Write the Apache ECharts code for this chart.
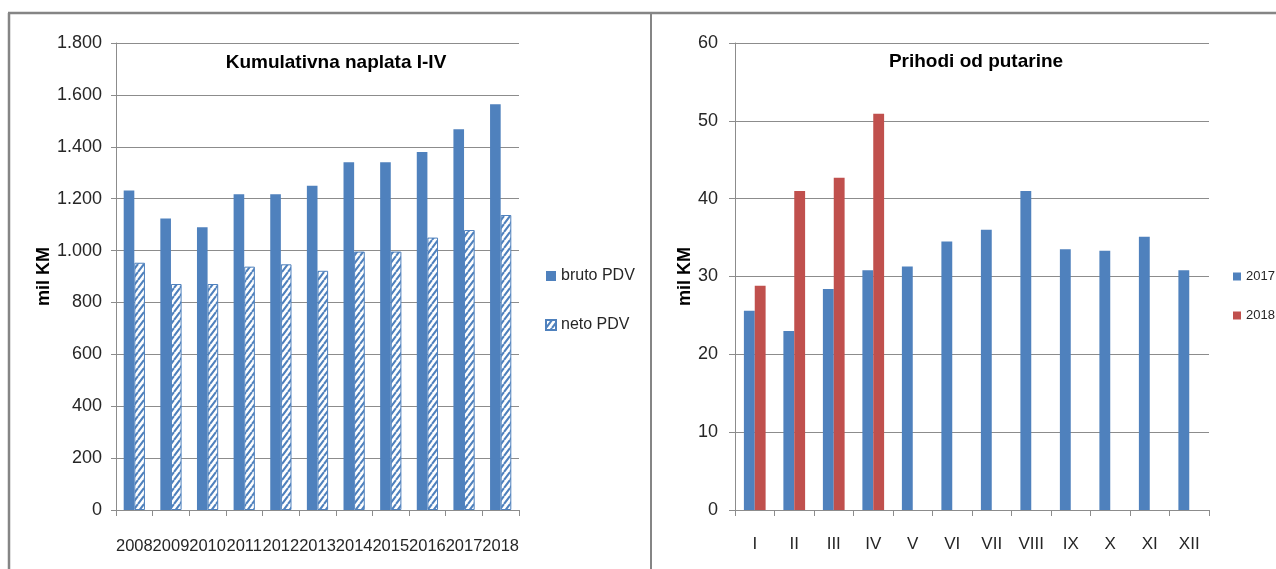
<!DOCTYPE html>
<html>
<head>
<meta charset="utf-8">
<script src="https://cdn.jsdelivr.net/npm/echarts@6/dist/echarts.min.js"></script>
<style>
html,body{margin:0;padding:0;background:#fff;}
#chart{width:1276px;height:569px;}
</style>
</head>
<body>
<div id="chart"></div>
<script>
// ---- data ----
const years = ['2008','2009','2010','2011','2012','2013','2014','2015','2016','2017','2018'];
const brutoPDV = [1231, 1124, 1090, 1217, 1217, 1250, 1340, 1340, 1380, 1468, 1564];
const netoPDV  = [953, 871, 871, 938, 947, 922, 996, 996, 1050, 1079, 1137];
const leftTicks = [0, 200, 400, 600, 800, 1000, 1200, 1400, 1600, 1800];

const months = ['I','II','III','IV','V','VI','VII','VIII','IX','X','XI','XII'];
const put2017 = [25.6, 23.0, 28.4, 30.8, 31.3, 34.5, 36.0, 41.0, 33.5, 33.3, 35.1, 30.8];
const put2018 = [28.8, 41.0, 42.7, 50.9, null, null, null, null, null, null, null, null];
const rightTicks = [0, 10, 20, 30, 40, 50, 60];

const BLUE = '#4F81BD', RED = '#C0504D', GRID = '#8c8c8c', TXT = '#262626';
const FONT = "'Liberation Sans', Arial, sans-serif";

// hatch pattern for neto PDV
const PW = 6, PH = 8;
const pc = document.createElement('canvas');
pc.width = PW; pc.height = PH;
const g = pc.getContext('2d');
g.fillStyle = '#fff'; g.fillRect(0,0,PW,PH);
g.strokeStyle = BLUE; g.lineWidth = 2.1;
g.beginPath();
[-PW, 0, PW].forEach(function(dx){ g.moveTo(dx, PH); g.lineTo(dx + PW, 0); });
g.stroke();

function fmtThousands(v){
  if (v >= 1000) { const r = v % 1000; return Math.floor(v/1000) + '.' + String(r).padStart(3,'0'); }
  return String(v);
}

const chart = echarts.init(document.getElementById('chart'), null, {renderer:'canvas'});
const axisLine = {show:true, lineStyle:{color:GRID, width:1}};
const option = {
  animation:false,
  backgroundColor:'#fff',
  title:[
    {text:'Kumulativna naplata I-IV', left:331, top:48, textAlign:'center',
     textStyle:{fontFamily:FONT, fontSize:19, fontWeight:'bold', color:'#000'}},
    {text:'Prihodi od putarine', left:971, top:47, textAlign:'center',
     textStyle:{fontFamily:FONT, fontSize:19, fontWeight:'bold', color:'#000'}}
  ],
  legend:[
    {orient:'vertical', left:540, top:263, itemWidth:10, itemHeight:10, itemGap:33,
     data:['bruto PDV','neto PDV'], icon:'rect',
     textStyle:{fontFamily:FONT, fontSize:16, color:TXT}},
    {orient:'vertical', left:1228, top:265, itemWidth:8, itemHeight:8, itemGap:26,
     data:['2017','2018'], icon:'rect',
     textStyle:{fontFamily:FONT, fontSize:13, color:TXT}}
  ],
  grid:[
    {left:116, top:43, width:403, height:467},
    {left:735, top:43, width:474, height:467}
  ],
  xAxis:[
    {type:'category', gridIndex:0, data:years,
     axisLine:axisLine, axisTick:{show:true, length:6, lineStyle:{color:GRID}},
     axisLabel:{fontFamily:FONT, fontSize:16.5, color:TXT, margin:28, interval:0}},
    {type:'category', gridIndex:1, data:months,
     axisLine:axisLine, axisTick:{show:true, length:6, lineStyle:{color:GRID}},
     axisLabel:{fontFamily:FONT, fontSize:17, color:TXT, margin:26, interval:0}}
  ],
  yAxis:[
    {type:'value', gridIndex:0, min:leftTicks[0], max:leftTicks[leftTicks.length-1], interval:200,
     name:'mil KM', nameLocation:'middle', nameGap:60,
     nameTextStyle:{fontFamily:FONT, fontSize:18, fontWeight:'bold', color:'#000'},
     axisLine:axisLine, axisTick:{show:true, length:5, lineStyle:{color:GRID}},
     splitLine:{show:true, lineStyle:{color:GRID, width:1}},
     axisLabel:{fontFamily:FONT, fontSize:18, color:TXT, margin:14, formatter:fmtThousands}},
    {type:'value', gridIndex:1, min:rightTicks[0], max:rightTicks[rightTicks.length-1], interval:10,
     name:'mil KM', nameLocation:'middle', nameGap:41,
     nameTextStyle:{fontFamily:FONT, fontSize:18, fontWeight:'bold', color:'#000'},
     axisLine:axisLine, axisTick:{show:true, length:6, lineStyle:{color:GRID}},
     splitLine:{show:true, lineStyle:{color:GRID, width:1}},
     axisLabel:{fontFamily:FONT, fontSize:18, color:TXT, margin:17}}
  ],
  series:[
    {name:'bruto PDV', type:'bar', xAxisIndex:0, yAxisIndex:0, data:brutoPDV,
     barGap:'0%', barCategoryGap:'42%', itemStyle:{color:BLUE}},
    {name:'neto PDV', type:'bar', xAxisIndex:0, yAxisIndex:0, data:netoPDV,
     barGap:'0%', barCategoryGap:'42%',
     itemStyle:{color:{image:pc, repeat:'repeat'}, borderColor:BLUE, borderWidth:1}},
    {name:'2017', type:'bar', xAxisIndex:1, yAxisIndex:1, data:put2017,
     barGap:'0%', barCategoryGap:'45%', itemStyle:{color:BLUE}},
    {name:'2018', type:'bar', xAxisIndex:1, yAxisIndex:1, data:put2018,
     barGap:'0%', barCategoryGap:'45%', itemStyle:{color:RED}}
  ],
  graphic:[
    {type:'line', shape:{x1:8, y1:13, x2:1276, y2:13}, style:{stroke:'#858585', lineWidth:2.5}, silent:true},
    {type:'line', shape:{x1:9, y1:13, x2:9, y2:569}, style:{stroke:'#858585', lineWidth:2.5}, silent:true},
    {type:'line', shape:{x1:651, y1:13, x2:651, y2:569}, style:{stroke:'#858585', lineWidth:2}, silent:true}
  ]
};
chart.setOption(option);
</script>
</body>
</html>
